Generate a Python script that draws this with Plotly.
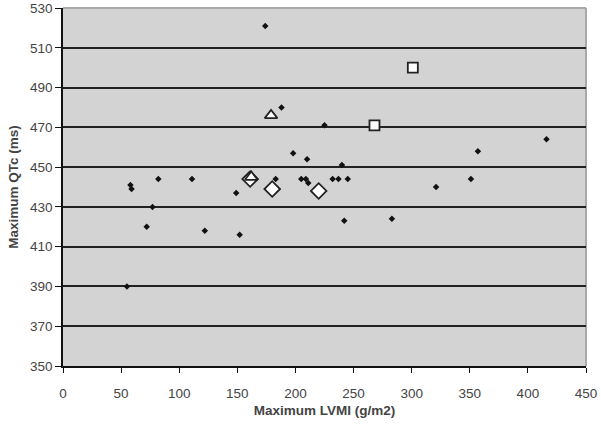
import plotly.graph_objects as go

# small black markers (all patients)
lvmi = [174, 188, 225, 198, 210, 416, 357, 240, 58, 59, 82, 111, 183, 149,
        205, 209, 211, 232, 237, 245, 321, 351, 77, 72, 122, 152, 242, 283, 55]
qtc = [521, 480, 471, 457, 454, 464, 458, 451, 441, 439, 444, 444, 444, 437,
       444, 444, 442, 444, 444, 444, 440, 444, 430, 420, 418, 416, 423, 424, 390]

# highlighted patients
sq_lvmi = [301, 268]
sq_qtc = [500, 471]
dia_lvmi = [161, 180, 220]
dia_qtc = [444, 439, 438]
tri_lvmi = [179, 162]
tri_qtc = [476, 445]

x_ticks = list(range(0, 451, 50))
y_ticks = list(range(350, 531, 20))

FONT = "Liberation Sans, Arial, sans-serif"

fig = go.Figure()
fig.add_trace(go.Scatter(
    x=lvmi, y=qtc, mode="markers",
    marker=dict(symbol="diamond", size=5, color="#111111"),
))
fig.add_trace(go.Scatter(
    x=dia_lvmi, y=dia_qtc, mode="markers",
    marker=dict(symbol="diamond", size=12, color="white",
                line=dict(color="#222222", width=1.8)),
))
fig.add_trace(go.Scatter(
    x=tri_lvmi, y=tri_qtc, mode="markers",
    marker=dict(symbol="triangle-up", size=11, color="white",
                line=dict(color="#222222", width=1.8)),
))
fig.add_trace(go.Scatter(
    x=sq_lvmi, y=sq_qtc, mode="markers",
    marker=dict(symbol="square", size=10, color="white",
                line=dict(color="#222222", width=1.8)),
))

# grey frame on top / right of the plot area
fig.add_shape(type="line", xref="paper", yref="paper", x0=0, x1=1, y0=1, y1=1,
              line=dict(color="#a8a8a8", width=2), layer="between")
fig.add_shape(type="line", xref="paper", yref="paper", x0=1, x1=1, y0=0, y1=1,
              line=dict(color="#a8a8a8", width=2), layer="between")

fig.update_layout(
    width=601, height=427,
    margin=dict(l=63, r=15, t=8, b=61),
    paper_bgcolor="white", plot_bgcolor="#d3d3d3",
    showlegend=False,
    font=dict(family=FONT, color="#444444", size=13),
    xaxis=dict(
        range=[0, 450], tickvals=x_ticks, showgrid=False, zeroline=False,
        automargin=False,
        showline=True, linecolor="#111111", linewidth=1.5,
        ticks="outside", ticklen=5, tickcolor="#111111",
        ticklabelstandoff=9,
        tickfont=dict(size=13.5, color="#444444"),
        title=dict(text="<b>Maximum LVMI (g/m2)</b>",
                   font=dict(size=13.5, color="#444444"), standoff=6),
    ),
    yaxis=dict(
        range=[350, 530], tickvals=y_ticks, showgrid=True,
        automargin=False,
        gridcolor="#222222", gridwidth=1.5, zeroline=False,
        showline=True, linecolor="#111111", linewidth=1.5,
        ticks="outside", ticklen=6, tickcolor="#111111",
        tickfont=dict(size=13.5, color="#444444"),
        title=dict(text="<b>Maximum QTc (ms)</b>",
                   font=dict(size=13.5, color="#444444"), standoff=8),
    ),
)

# page has a default 8px body margin; drop it so the figure fills the window
fig.write_html("out.html", config={"displayModeBar": False},
               post_script="document.body.style.margin = '0';")
